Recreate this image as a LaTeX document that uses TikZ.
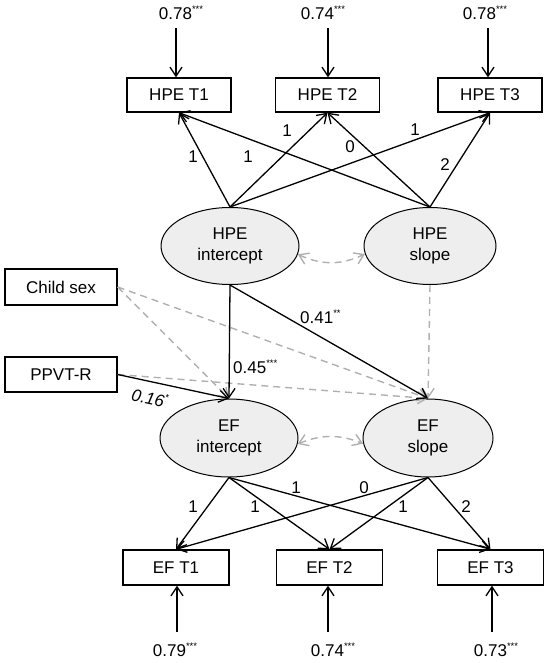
\documentclass[tikz,border=0pt]{standalone}
\usepackage{fontspec}
\setmainfont{Liberation Sans}
\usetikzlibrary{shapes.geometric,arrows.meta}
\definecolor{dgray}{HTML}{B0B0B0}
\definecolor{efill}{HTML}{EEEEEE}
\newcommand{\sig}[1]{\raisebox{0.8ex}{\fontsize{9.5}{9.5}\selectfont #1}}
\begin{document}
\begin{tikzpicture}[x=1pt,y=1pt,
  font=\fontsize{17}{21}\selectfont,
  obs/.style={draw, line width=1.4pt, minimum width=104pt, minimum height=34pt, inner sep=0pt},
  lat/.style={draw, ellipse, fill=efill, line width=1pt, inner sep=0pt, align=center},
  arr/.style={-{Straight Barb[length=9pt,width=12pt]}, line width=1.3pt},
  garr/.style={arr, dgray, line width=1.4pt, dash pattern=on 7pt off 5pt},
  gcov/.style={{Straight Barb[length=9pt,width=12pt]}-{Straight Barb[length=9pt,width=12pt]}, line width=1.4pt, dgray, dash pattern=on 7pt off 5pt},
  lab/.style={inner sep=0pt}
]
\useasboundingbox (0,0) rectangle (550,-663);

% observed HPE
\node[obs] (h1) at (179,-95) {HPE T1};
\node[obs] (h2) at (327.5,-95) {HPE T2};
\node[obs] (h3) at (490,-95) {HPE T3};
% latent
\node[lat, minimum width=138pt, minimum height=77pt] (hi) at (230,-246) {HPE\\intercept};
\node[lat, minimum width=132pt, minimum height=77pt] (hs) at (430,-246) {HPE\\slope};
\node[lat, minimum width=138pt, minimum height=78pt] (ei) at (229,-438) {EF\\intercept};
\node[lat, minimum width=130pt, minimum height=78pt] (es) at (428,-438) {EF\\slope};
% observed EF
\node[obs, minimum width=106pt, minimum height=35pt] (f1) at (176,-567.5) {EF T1};
\node[obs, minimum width=106pt, minimum height=35pt] (f2) at (329.5,-567.5) {EF T2};
\node[obs, minimum width=106pt, minimum height=35pt] (f3) at (490.5,-567.5) {EF T3};
% covariates
\node[obs, minimum width=112pt, minimum height=36pt] (cs) at (61,-287) {Child sex};
\node[obs, minimum width=112pt, minimum height=35pt] (pp) at (61,-374.5) {PPVT-R};

% residual labels top
\node[lab] (r1) at (181,-13) {0.78\sig{***}};
\node[lab] (r2) at (323,-13) {0.74\sig{***}};
\node[lab] (r3) at (485,-13) {0.78\sig{***}};
\coordinate (t1) at (176,-28);
\coordinate (t2) at (328,-28);
\coordinate (t3) at (488,-28);
\draw[arr] (t1) -- (t1 |- h1.north);
\draw[arr] (t2) -- (t2 |- h2.north);
\draw[arr] (t3) -- (t3 |- h3.north);

% residual labels bottom
\node[lab] (s1) at (175,-650) {0.79\sig{***}};
\node[lab] (s2) at (333,-650) {0.74\sig{***}};
\node[lab] (s3) at (496,-650) {0.73\sig{***}};
\coordinate (b1) at (177,-632);
\coordinate (b2) at (328,-632);
\coordinate (b3) at (492,-632);
\draw[arr] (b1) -- (b1 |- f1.south);
\draw[arr] (b2) -- (b2 |- f2.south);
\draw[arr] (b3) -- (b3 |- f3.south);

% HPE loadings
\foreach \t in {h1,h2,h3}{
  \draw[arr] (hi.north) -- (\t.south);
  \draw[arr] (hs.north) -- (\t.south);
}
% EF loadings
\foreach \t in {f1,f2,f3}{
  \draw[arr] (ei.south) -- (\t.north);
  \draw[arr] (es.south) -- (\t.north);
}

% loading labels
\node[lab] at (193,-157) {1};
\node[lab] at (248,-157) {1};
\node[lab] at (287,-131) {1};
\node[lab] at (350,-147) {0};
\node[lab] at (415,-130) {1};
\node[lab] at (445,-165) {2};

\node[lab] at (193,-507) {1};
\node[lab] at (255,-507) {1};
\node[lab] at (296,-488) {1};
\node[lab] at (364,-488) {0};
\node[lab] at (403,-507) {1};
\node[lab] at (466,-507) {2};

% covariances
\draw[gcov] (hi.-7) to[bend right=25] (hs.187);
\draw[gcov] (ei.-5) to[bend left=22] (es.185);

% regressions
\draw[garr] (hs.south) -- (es.north);
\draw[garr] (cs.east) -- (ei.north);
\draw[garr] (cs.east) -- (es.north);
\draw[garr] (pp.east) -- (es.north);
\draw[arr] (hi.south) -- (ei.north);
\draw[arr] (hi.south) -- (es.north);
\draw[arr] (pp.east) -- (ei.north);

\node[lab, anchor=west] at (233,-367) {0.45\sig{***}};
\node[lab, anchor=west] at (300,-317) {0.41\sig{**}};
\node[lab, rotate=-12, font=\fontsize{17}{21}\selectfont\itshape] at (150,-398) {0.16\sig{*}};
\end{tikzpicture}
\end{document}
